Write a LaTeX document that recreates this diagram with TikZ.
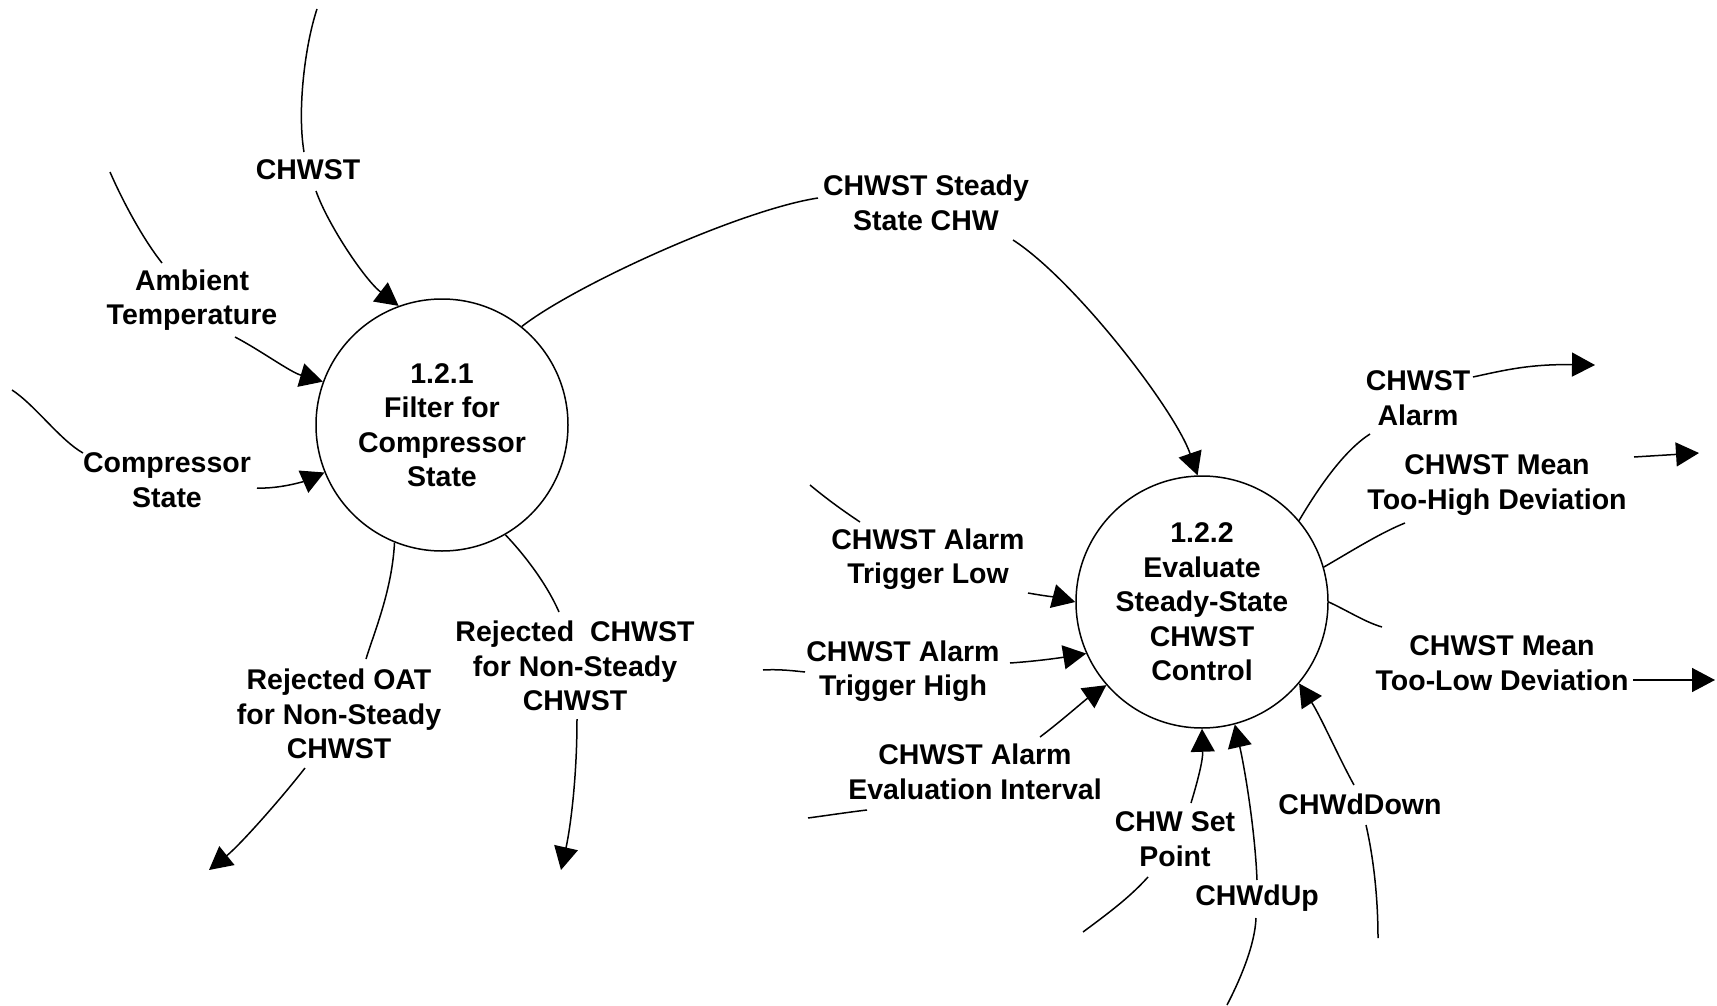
\documentclass[tikz,border=0pt]{standalone}
\usepackage{fontspec}
\setmainfont{Liberation Sans}
\usetikzlibrary{arrows.meta}
\newcommand\dfdfont{\fontsize{28.5}{34.5}\selectfont\bfseries}
\begin{document}
\begin{tikzpicture}[x=1pt,y=-1pt,
  flow/.style={line width=1.5pt},
  arr/.style={flow,-{Triangle[length=23pt,width=24pt]}},
  proc/.style={circle,draw,line width=1.5pt,minimum size=252pt,inner sep=0pt,align=center,font=\dfdfont},
  lab/.style={align=center,inner sep=0pt,font=\dfdfont}]
\useasboundingbox (0,0) rectangle (1717,1006);

% processes
\node[proc] (c1) at (442,425) {1.2.1\\Filter for\\Compressor\\State};
\node[proc] (c2) at (1202,602) {1.2.2\\Evaluate\\Steady-State\\CHWST\\Control};

% labels
\node[lab] (lchw) at (308,170) {CHWST};
\node[lab] (lamb) at (192,300) {Ambient\\Temperature};
\node[lab] (lcomp) at (167,480) {Compressor\\State};
\node[lab] (lsteady) at (926,203) {CHWST Steady\\State CHW};
\node[lab] (lroat) at (339,714) {Rejected OAT\\for Non-Steady\\CHWST};
\node[lab] (lrchw) at (575,666) {Rejected\ \ CHWST\\for Non-Steady\\CHWST};
\node[lab] (ltlow) at (928,559) {CHWST Alarm\\Trigger Low};
\node[lab] (lthigh) at (903,671) {CHWST Alarm\\Trigger High};
\node[lab] (leval) at (975,772) {CHWST Alarm\\Evaluation Interval};
\node[lab] (lsetpt) at (1175,839) {CHW Set\\Point};
\node[lab] (lup) at (1257,898) {CHWdUp};
\node[lab] (ldown) at (1360,804) {CHWdDown};
\node[lab] (lalarm) at (1418,398) {CHWST\\Alarm};
\node[lab] (lhigh) at (1497,485) {CHWST Mean\\Too-High Deviation};
\node[lab] (llowdev) at (1502,663) {CHWST Mean\\Too-Low Deviation};

% free ends
\coordinate (f1) at (317,9);
\coordinate (f2) at (110,172);
\coordinate (f3) at (12,390);
\coordinate (f5) at (209,870);
\coordinate (f6) at (561,870);
\coordinate (f7) at (810,485);
\coordinate (f8) at (763,670);
\coordinate (f9) at (808,818);
\coordinate (f10) at (1083,932);
\coordinate (f11) at (1227,1005);
\coordinate (f12) at (1378,938);
\coordinate (f13) at (1595,365);
\coordinate (f14) at (1699,453);
\coordinate (f15) at (1715,680);

% CHWST
\draw[flow] (f1) .. controls (305,45) and (297,110) .. ([shift={(-4,-18)}]lchw.center);
\draw[arr] ([shift={(8,21)}]lchw.center) .. controls (328,225) and (365,280) .. (c1.110);
% Ambient Temperature
\draw[flow] (f2) .. controls (120,195) and (140,235) .. ([shift={(-30,-37)}]lamb.center);
\draw[arr] ([shift={(43,37)}]lamb.center) .. controls (260,350) and (290,372) .. (c1.160);
% Compressor State
\draw[flow] (f3) .. controls (35,405) and (60,440) .. ([shift={(-84,-27)}]lcomp.center);
\draw[arr] ([shift={(90,8)}]lcomp.center) .. controls (280,489) and (305,481) .. (c1.202);
% CHWST Steady State CHW
\draw[flow] (c1.51) .. controls (575,285) and (740,210) .. ([shift={(-108,-5)}]lsteady.center);
\draw[arr] ([shift={(87,37)}]lsteady.center) .. controls (1075,280) and (1175,410) .. (c2.92);
% Rejected OAT
\draw[flow] (c1.248) .. controls (392,590) and (375,630) .. ([shift={(27,-55)}]lroat.center);
\draw[arr] ([shift={(-34,54)}]lroat.center) .. controls (280,800) and (240,845) .. (f5);
% Rejected CHWST
\draw[flow] (c1.300) .. controls (520,550) and (545,580) .. ([shift={(-16,-54)}]lrchw.center);
\draw[arr] ([shift={(2,53)}]lrchw.center) .. controls (577,780) and (570,830) .. (f6);
% Trigger Low
\draw[flow] (f7) .. controls (828,500) and (845,512) .. ([shift={(-68,-37)}]ltlow.center);
\draw[arr] ([shift={(100,34)}]ltlow.center) .. controls (1045,596) and (1060,598) .. (c2.180);
% Trigger High
\draw[flow] (f8) .. controls (780,669) and (795,671) .. ([shift={(-98,1)}]lthigh.center);
\draw[arr] ([shift={(107,-8)}]lthigh.center) .. controls (1040,661) and (1065,657) .. (c2.204);
% Evaluation Interval
\draw[flow] (f9) .. controls (830,815) and (850,812) .. ([shift={(-108,38)}]leval.center);
\draw[arr] ([shift={(65,-35)}]leval.center) .. controls (1060,722) and (1085,700) .. (c2.221);
% CHW Set Point
\draw[flow] (f10) .. controls (1110,912) and (1130,897) .. ([shift={(-27,38)}]lsetpt.center);
\draw[arr] ([shift={(16,-36)}]lsetpt.center) .. controls (1198,780) and (1203,760) .. (c2.270);
% CHWdUp
\draw[flow] (f11) .. controls (1240,980) and (1255,945) .. ([shift={(-1,20)}]lup.center);
\draw[arr] ([shift={(0,-18)}]lup.center) .. controls (1255,830) and (1245,770) .. (c2.285);
% CHWdDown
\draw[flow] (f12) .. controls (1378,900) and (1374,860) .. ([shift={(6,21)}]ldown.center);
\draw[arr] ([shift={(-6,-19)}]ldown.center) .. controls (1340,760) and (1320,715) .. (c2.320);
% CHWST Alarm
\draw[flow] (c2.40) .. controls (1320,485) and (1345,450) .. ([shift={(-48,36)}]lalarm.center);
\draw[arr] ([shift={(55,-21)}]lalarm.center) .. controls (1505,370) and (1530,364) .. (f13);
% Too-High
\draw[flow] (c2.16) .. controls (1350,552) and (1380,533) .. ([shift={(-92,38)}]lhigh.center);
\draw[arr] ([shift={(137,-28)}]lhigh.center) -- (f14);
% Too-Low
\draw[flow] (c2.0) .. controls (1350,612) and (1365,622) .. ([shift={(-120,-36)}]llowdev.center);
\draw[arr] ([shift={(131,17)}]llowdev.center) -- (f15);
\end{tikzpicture}
\end{document}
